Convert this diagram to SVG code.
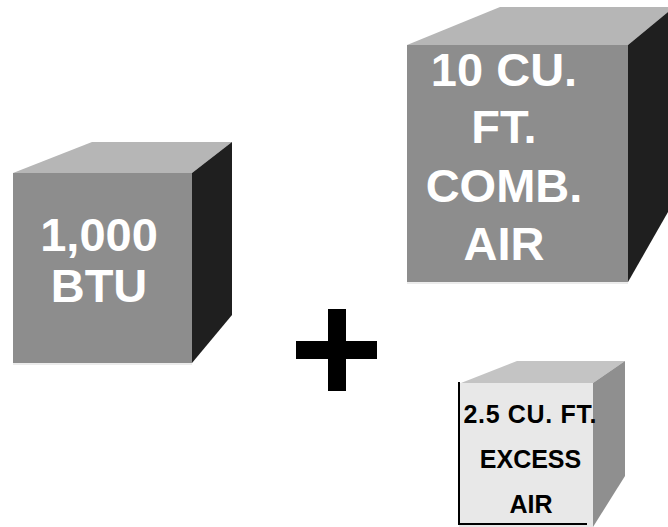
<svg xmlns="http://www.w3.org/2000/svg" width="668" height="527" viewBox="0 0 668 527">
<style>
.wt{font-family:"Liberation Sans",Arial,sans-serif;font-weight:bold;fill:#ffffff;text-anchor:middle}
.bt{font-family:"Liberation Sans",Arial,sans-serif;font-weight:bold;fill:#000000;text-anchor:middle}
.front{fill:#8d8d8d}
.top{fill:#b6b6b6}
.side{fill:#1f1f1f}
</style>
<rect width="668" height="527" fill="#ffffff"/>
<g id="btu-cube">
<polygon class="top" points="13,173 92,142 232,142 192,173"/>
<polygon class="side" points="192,173 232,142 232,315 192,363"/>
<rect class="front" x="13" y="173" width="179" height="190"/>
<line x1="13" y1="364" x2="192" y2="364" stroke="#d8d8d8" stroke-width="1"/>
<text class="wt" x="99" y="251" font-size="47">1,000</text>
<text class="wt" x="99" y="302" font-size="47">BTU</text>
</g>
<g id="comb-air-cube">
<polygon class="top" points="407,45 500,7 668,7 668,12 628,45"/>
<polygon class="side" points="628,45 668,12 668,212 628,282"/>
<rect class="front" x="407" y="45" width="221" height="237"/>
<line x1="407" y1="283" x2="628" y2="283" stroke="#d8d8d8" stroke-width="1"/>
<text class="wt" x="504" y="86" font-size="47">10 CU.</text>
<text class="wt" x="504" y="143" font-size="47">FT.</text>
<text class="wt" x="504" y="202" font-size="47">COMB.</text>
<text class="wt" x="504" y="260" font-size="47">AIR</text>
</g>
<g id="plus">
<rect x="328" y="309" width="18" height="82" fill="#000000"/>
<rect x="296" y="341" width="81" height="18" fill="#000000"/>
</g>
<g id="excess-air-cube">
<polygon points="461,383 517,361 625,361 593,383" fill="#c4c4c4"/>
<polygon points="593,383 625,361 625,476 593,527" fill="#8f8f8f"/>
<rect x="459" y="383" width="134" height="144" fill="#e8e8e8"/>
<line x1="459" y1="382" x2="459" y2="525" stroke="#000000" stroke-width="2"/>
<line x1="458" y1="524" x2="587" y2="524" stroke="#000000" stroke-width="2"/>
<text class="bt" x="530" y="423" font-size="25" textLength="133" lengthAdjust="spacing">2.5 CU. FT.</text>
<text class="bt" x="530.5" y="468" font-size="25">EXCESS</text>
<text class="bt" x="531" y="513" font-size="25">AIR</text>
</g>
<g id="connectors"/>
</svg>
